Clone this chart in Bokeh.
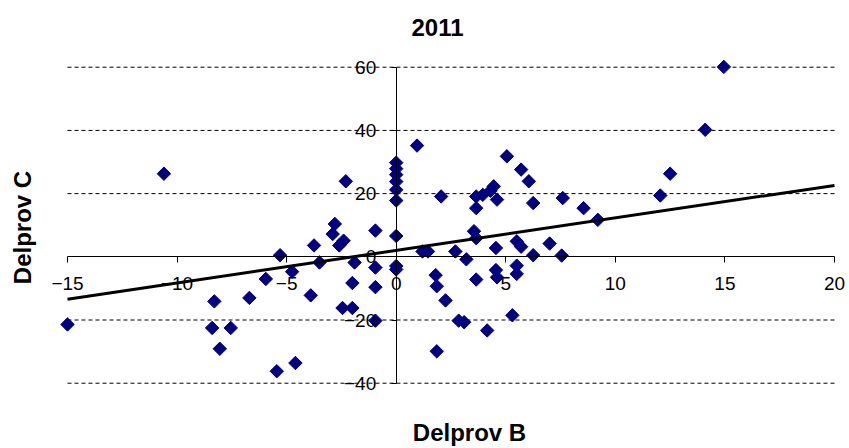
import math
from bokeh.plotting import figure
from bokeh.models import Range1d, FixedTicker, Label
from bokeh.embed import file_html
from bokeh.resources import INLINE

# ---- data ----
delprov_b = [-15.0, -10.6, -8.3, -8.4, -8.05, -7.55, -6.7, -5.95, -5.3, -5.45,
             -4.6, -4.75, -3.9, -3.75, -3.5, -2.8, -2.9, -2.6, -2.4, -2.3,
             -1.9, -0.95, -0.95, -2.0, -2.45, -2.0, -0.95, -0.95,
             0.0, 0.0, 0.0, 0.0, 0.0, 0.0, 0.0, 0.0, 0.0,
             0.95, 2.05, 1.2, 1.45, 2.7, 3.2, 3.55, 3.65, 3.65, 3.65, 3.95,
             4.3, 4.45, 4.6, 4.55, 5.05, 5.7, 6.05, 6.25, 5.5, 5.7, 6.25, 7.0,
             4.55, 5.5, 7.6, 8.55, 9.2, 7.55, 12.05, 12.5, 14.1, 14.95,
             1.8, 1.85, 2.25, 2.85, 3.1, 3.65, 1.85, 4.15, 4.6, 5.3, 5.5]
delprov_c = [-21.4, 26.3, -14.1, -22.5, -29.1, -22.5, -13.0, -7.0, 0.5, -36.2,
             -33.6, -4.7, -12.2, 3.6, -1.8, 10.4, 7.2, 3.6, 5.1, 23.9,
             -1.8, 8.3, -3.4, -8.3, -16.2, -16.2, -9.6, -20.2,
             29.8, 27.9, 26.0, 23.8, 21.2, 17.8, 6.6, -2.9, -4.0,
             35.2, 19.1, 1.7, 1.7, 1.7, -0.8, 8.1, 5.9, 19.1, 15.4, 19.6,
             20.9, 22.3, 18.1, 2.8, 31.8, 27.6, 23.9, 17.0, 4.9, 3.2, 0.5, 4.2,
             -4.2, -2.8, 18.6, 15.4, 11.7, 0.4, 19.4, 26.3, 40.2, 60.1,
             -5.8, -9.3, -13.8, -20.2, -20.7, -7.2, -29.9, -23.3, -6.5, -18.5, -5.4]

trend_x = [-15, 20]
trend_y = [-13.4, 22.6]

x_ticks = [-15, -10, -5, 0, 5, 10, 15, 20]
y_ticks = [-40, -20, 0, 20, 40, 60]
grid_vals = [-40, -20, 20, 40, 60]

title_text = "2011"
x_title = "Delprov B"
y_title = "Delprov C"

FONT = "Liberation Sans"

# The frame fills the whole canvas; axes cross at zero inside it.
p = figure(width=849, height=448, output_backend="svg", toolbar_location=None, title=None,
           x_range=Range1d(-18.057, 20.684), y_range=Range1d(-60.66, 81.11),
           min_border_left=0, min_border_right=0, min_border_top=0, min_border_bottom=0)
p.outline_line_color = None
p.background_fill_color = "white"
p.border_fill_color = "white"
p.xgrid.visible = False
p.ygrid.visible = False

# dashed horizontal gridlines
p.segment(x0=[x_ticks[0]] * len(grid_vals), x1=[x_ticks[-1]] * len(grid_vals),
          y0=grid_vals, y1=grid_vals, line_color="black", line_width=1, line_dash="4 3")

for ax in (p.xaxis, p.yaxis):
    ax.fixed_location = 0
    ax.axis_line_color = "black"
    ax.axis_line_width = 1
    ax.major_tick_line_color = "black"
    ax.major_tick_in = 0
    ax.minor_tick_line_color = None
    ax.major_label_text_font = FONT
    ax.major_label_text_font_size = "19px"
    ax.major_label_text_color = "black"

p.xaxis.ticker = FixedTicker(ticks=x_ticks)
p.yaxis.ticker = FixedTicker(ticks=y_ticks)
p.xaxis.bounds = (x_ticks[0], x_ticks[-1])
p.yaxis.bounds = (y_ticks[0], y_ticks[-1])
p.xaxis.major_tick_out = 6
p.xaxis.major_label_standoff = 14
p.yaxis.major_tick_out = 5
p.yaxis.major_label_standoff = 15

# points
p.scatter(delprov_b, delprov_c, marker="square", angle=math.pi / 4, size=9.5,
          fill_color="#000080", line_color="#000080")

# trend line
p.line(trend_x, trend_y, line_color="black", line_width=3)

# titles
p.add_layout(Label(x=1.885, y=72.6, text=title_text, text_font=FONT, text_font_size="24px",
                   text_font_style="bold", text_color="black",
                   text_align="center", text_baseline="middle"))
p.add_layout(Label(x=3.345, y=-55.6, text=x_title, text_font=FONT, text_font_size="24px",
                   text_font_style="bold", text_color="black",
                   text_align="center", text_baseline="middle"))
p.add_layout(Label(x=-17.05, y=9.28, text=y_title, text_font=FONT, text_font_size="24px",
                   text_font_style="bold", text_color="black",
                   text_align="center", text_baseline="middle", angle=math.pi / 2))

open("out.html", "w").write(file_html(p, INLINE))
